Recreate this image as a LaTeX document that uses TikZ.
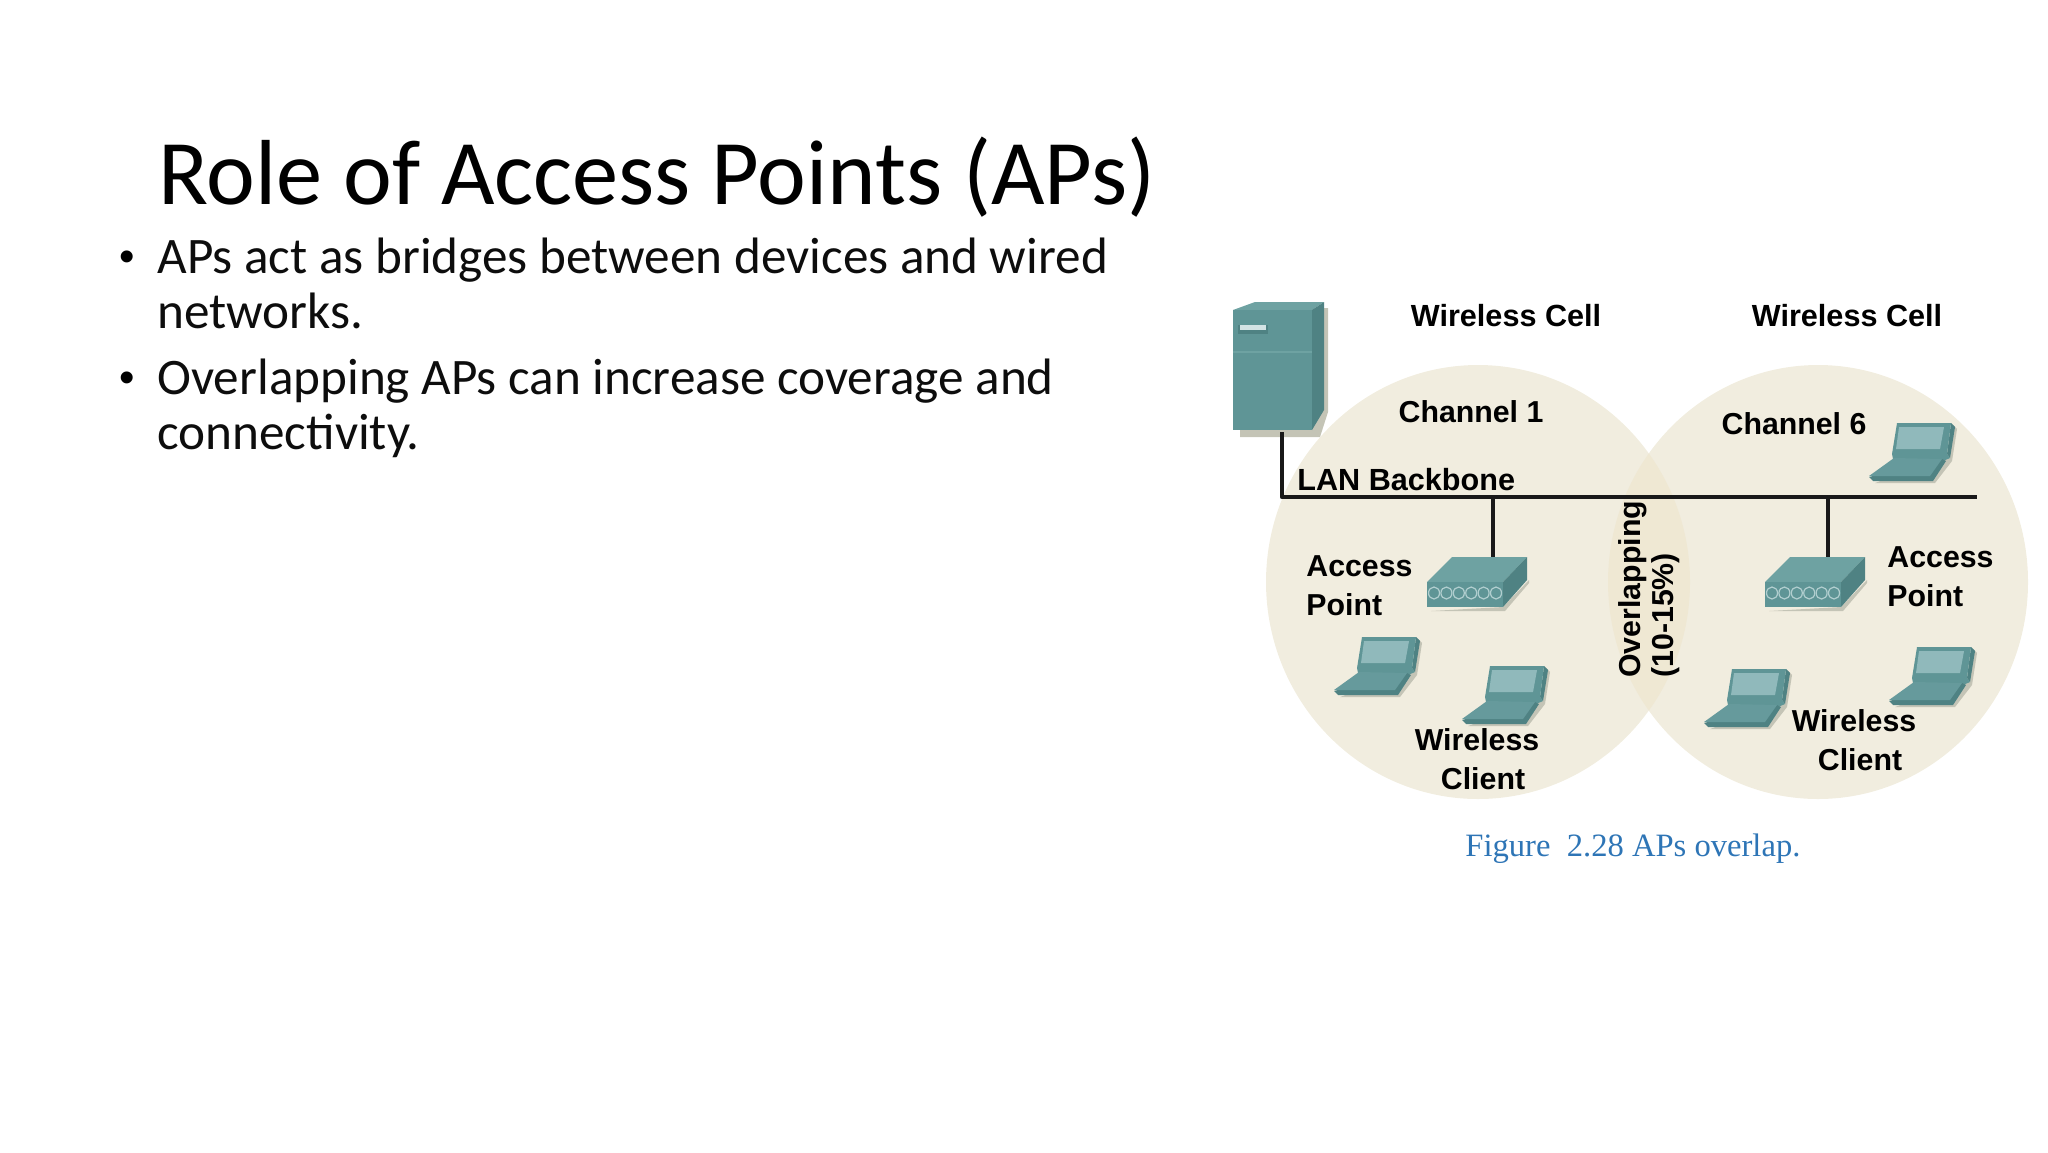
\documentclass[tikz,border=0pt]{standalone}
\usepackage{fontspec}
\setmainfont{Carlito}
\newfontfamily\lblfont{Liberation Sans}
\newfontfamily\capfont{Liberation Serif}
\usepackage{tikz}

\definecolor{cellfill}{HTML}{F1EDDF}
\definecolor{overlapfill}{HTML}{EFE8D3}
\definecolor{tealfront}{HTML}{5F9596}
\definecolor{tealtop}{HTML}{6EA2A2}
\definecolor{tealside}{HTML}{4F8283}
\definecolor{tealscreen}{HTML}{90B9BB}
\definecolor{shadowgray}{HTML}{C4C4B6}
\definecolor{capblue}{HTML}{2E75B6}

\tikzset{
    lbl/.style={inner sep=0, text=black, font=\lblfont\bfseries\fontsize{15.15}{15.15}\selectfont},
    bodytext/.style={inner sep=0, anchor=base west, text=black!95, font=\fontsize{25.6}{25.6}\selectfont},
    bulletmark/.style={inner sep=0, anchor=base west, font=\lblfont\fontsize{22}{22}\selectfont},
    wire/.style={line width=2.2pt, black!90},
    laptop/.pic={
        \fill[shadowgray] (-22, 60) -- (38, 60) -- (55, 38) -- (60, 6) -- (56, 2) -- (50, 34) -- cycle;
        \fill[tealside] (54, 0) -- (58, 4) -- (53, 35) -- (50, 31) -- cycle;
        \fill[tealfront] (0, 0) -- (54, 0) -- (50, 31) -- (53, 35) -- (46, 38) -- (-4, 36) -- (-5, 31) -- cycle;
        \fill[tealscreen] (2, 4) -- (47, 4) -- (43, 26) -- (-1, 26) -- cycle;
        \fill[tealside] (45, 36) -- (49, 38) -- (36, 58) -- (-24, 58) -- (-28, 54) -- cycle;
        \fill[tealfront!85!tealscreen] (-3, 35) -- (45, 36) -- (33, 53) -- (-28, 53) -- cycle;
    },
    accesspoint/.pic={
        \fill[shadowgray] (4, 29) -- (78, 29) -- (102, 1) -- (102, -2) -- (76, 25) -- cycle;
        \fill[tealtop] (25, -25) -- (100, -25) -- (76, 0) -- (0, 0) -- cycle;
        \fill[tealside] (100, -25) -- (100, -2) -- (76, 25) -- (76, 0) -- cycle;
        \fill[tealfront] (0, 0) -- (76, 0) -- (76, 25) -- (0, 25) -- cycle;
        \foreach \px in {0,...,5}
            \draw[tealscreen!70!white, line width=0.6pt] (7 + 12.4 * \px, 11) ellipse [x radius=5.5, y radius=6];
    }
}

\begin{document}
\begin{tikzpicture}[x=0.5pt, y=-0.5pt]
    \useasboundingbox (0, 0) rectangle (2048, 1152);

    % slide text
    \node[inner sep=0, anchor=base west, text=black, font=\fontsize{46.2}{46.2}\selectfont] (title) at (158, 204) {Role of Access Points (APs)};
    \node[bulletmark] (bullet1) at (119, 271) {•};
    \node[bodytext] (line1) at (157, 273) {APs act as bridges between devices and wired};
    \node[bodytext] (line2) at (157, 328) {networks.};
    \node[bulletmark] (bullet2) at (119, 392) {•};
    \node[bodytext] (line3) at (157, 394) {Overlapping APs can increase coverage and};
    \node[bodytext] (line4) at (157, 449) {connectivity.};

    % wireless cells
    \fill[cellfill] (1478, 582) ellipse [x radius=212, y radius=217];
    \fill[cellfill] (1818, 582) ellipse [x radius=210, y radius=217];
    \begin{scope}
        \clip (1478, 582) ellipse [x radius=212, y radius=217];
        \fill[overlapfill] (1818, 582) ellipse [x radius=210, y radius=217];
    \end{scope}

    % server
    \fill[shadowgray] (1240, 437) -- (1320, 437) -- (1328, 412) -- (1328, 308) -- (1312, 308) -- (1240, 430) -- cycle;
    \fill[tealtop] (1233, 310) -- (1255, 302) -- (1324, 302) -- (1312, 310) -- cycle;
    \fill[tealside] (1312, 310) -- (1324, 302) -- (1324, 410) -- (1312, 430) -- cycle;
    \fill[tealfront] (1233, 310) rectangle (1312, 430);
    \draw[tealtop, line width=0.8pt] (1233, 352) -- (1312, 352);
    \fill[tealside] (1238, 325) rectangle (1268, 334);
    \fill[tealscreen!40!white] (1240, 325) rectangle (1266, 330);

    % wires
    \coordinate (server) at (1282, 432);
    \coordinate (corner) at (1282, 497);
    \coordinate (busend) at (1977, 497);
    \coordinate (tapa) at (1493, 497);
    \coordinate (tapb) at (1828, 497);
    \coordinate (apa) at (1493, 557);
    \coordinate (apb) at (1828, 557);
    \draw[wire, line join=round] (server) -- (corner) -- (busend);
    \draw[wire] (tapa) -- (apa);
    \draw[wire] (tapb) -- (apb);

    % access points and laptops
    \pic at (1427, 582) {accesspoint};
    \pic at (1765, 582) {accesspoint};
    \pic at (1362, 637) {laptop};
    \pic at (1490, 666) {laptop};
    \pic at (1897, 423) {laptop};
    \pic at (1732, 669) {laptop};
    \pic at (1917, 647) {laptop};

    % labels
    \node[lbl, font=\lblfont\bfseries\fontsize{15.3}{15.3}\selectfont] (cella) at (1506, 316) {Wireless Cell};
    \node[lbl, font=\lblfont\bfseries\fontsize{15.3}{15.3}\selectfont] (cellb) at (1847, 316) {Wireless Cell};
    \node[lbl] (chana) at (1471, 412) {Channel 1};
    \node[lbl] (chanb) at (1794, 424) {Channel 6};
    \node[lbl, anchor=base west, font=\lblfont\bfseries\fontsize{15.3}{15.3}\selectfont] (lan) at (1297, 490) {LAN Backbone};
    \node[lbl, anchor=base west] (accessa) at (1306, 576) {Access};
    \node[lbl, anchor=base west] (pointa) at (1306, 615) {Point};
    \node[lbl, anchor=base west] (accessb) at (1887, 567) {Access};
    \node[lbl, anchor=base west] (pointb) at (1887, 606) {Point};
    \node[lbl, anchor=base] (wirelessa) at (1477, 750) {Wireless};
    \node[lbl, anchor=base] (clienta) at (1483, 789) {Client};
    \node[lbl, anchor=base] (wirelessb) at (1854, 731) {Wireless};
    \node[lbl, anchor=base] (clientb) at (1860, 770) {Client};
    \node[lbl, anchor=base west, rotate=90] (overlap) at (1640, 678) {Overlapping};
    \node[lbl, anchor=base west, rotate=90] (percent) at (1673, 678) {(10-15\%)};

    \node[inner sep=0, anchor=base west, text=capblue, font=\capfont\fontsize{16.3}{16.3}\selectfont] (caption) at (1465, 856) {Figure\ \ 2.28 APs overlap.};
\end{tikzpicture}
\end{document}
